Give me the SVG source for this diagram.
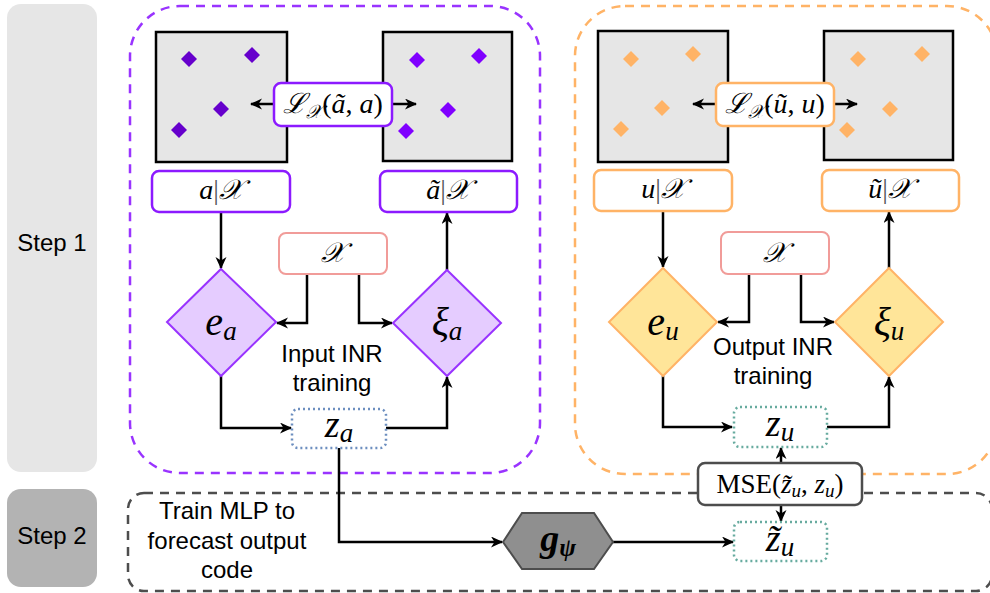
<svg xmlns="http://www.w3.org/2000/svg" width="990" height="593" viewBox="0 0 990 593">
<defs>
<marker id="arr" markerWidth="14" markerHeight="12" refX="11" refY="5.5" orient="auto" markerUnits="userSpaceOnUse">
<path d="M0,0 L12,5.5 L0,11 L3.5,5.5 z" fill="#000"/>
</marker>
<style>
.sans{font-family:"Liberation Sans",Arial,Helvetica,sans-serif;font-size:24px;fill:#000;text-anchor:middle}
.m{font-family:"Liberation Serif","DejaVu Serif","Times New Roman",serif;font-style:italic;fill:#000;text-anchor:middle}
.up{font-style:normal}
.conn{fill:none;stroke:#000;stroke-width:2.5}
.sq{fill:#e6e6e6;stroke:#000;stroke-width:2.5}
.lblP{fill:#fff;stroke:#8c1aff;stroke-width:2.5}
.lblO{fill:#fff;stroke:#ffb366;stroke-width:2.5}
.lblX{fill:#fff;stroke:#f19c99;stroke-width:2}
.dP{fill:#e5ccff;stroke:#9933ff;stroke-width:2}
.dO{fill:#ffe599;stroke:#ffb366;stroke-width:2}
.pa{fill:#6600cc}
.pb{fill:#8000ff}
.po{fill:#ffb366}
</style>
</defs>

<g id="step1">
<rect x="7" y="4" width="90" height="468" rx="14" fill="#e6e6e6"/>
<text class="sans" x="52" y="251">Step 1</text>
</g>
<g id="step2">
<rect x="7" y="489" width="90" height="98" rx="14" fill="#b3b3b3"/>
<text class="sans" x="52" y="544">Step 2</text>
</g>

<g id="input-panel">
<rect x="130" y="6" width="410" height="467" rx="50" fill="none" stroke="#9933ff" stroke-width="2.5" stroke-dasharray="9 7"/>
</g>
<g id="output-panel">
<rect x="575" y="6" width="422" height="468" rx="50" fill="none" stroke="#ffb366" stroke-width="2.5" stroke-dasharray="9 7"/>
</g>
<g id="step2-panel">
<rect x="128" y="493" width="864" height="98" rx="16" fill="none" stroke="#4d4d4d" stroke-width="2.5" stroke-dasharray="9 7"/>
<text class="sans" x="227" y="519">Train MLP to</text>
<text class="sans" x="227" y="549">forecast output</text>
<text class="sans" x="227" y="578">code</text>
</g>

<g id="grid-a">
<rect class="sq" x="156" y="32" width="131" height="130"/>
<path class="pa" d="M189,51 l8,8 l-8,8 l-8,-8z M252,47 l8,8 l-8,8 l-8,-8z M221,101 l8,8 l-8,8 l-8,-8z M179,122 l8,8 l-8,8 l-8,-8z"/>
</g>
<g id="grid-a-tilde">
<rect class="sq" x="383" y="32" width="129" height="129"/>
<path class="pb" d="M417,52 l8,8 l-8,8 l-8,-8z M479,48 l8,8 l-8,8 l-8,-8z M448,102 l8,8 l-8,8 l-8,-8z M406,123 l8,8 l-8,8 l-8,-8z"/>
</g>
<g id="grid-u">
<rect class="sq" x="598" y="31" width="130" height="131"/>
<path class="po" d="M631,51 l8,8 l-8,8 l-8,-8z M693,46 l8,8 l-8,8 l-8,-8z M662,100 l8,8 l-8,8 l-8,-8z M621,121 l8,8 l-8,8 l-8,-8z"/>
</g>
<g id="grid-u-tilde">
<rect class="sq" x="824" y="31" width="129" height="129"/>
<path class="po" d="M858,51 l8,8 l-8,8 l-8,-8z M922,46 l8,8 l-8,8 l-8,-8z M890,101 l8,8 l-8,8 l-8,-8z M847,122 l8,8 l-8,8 l-8,-8z"/>
</g>

<g id="connectors">
<path class="conn" marker-end="url(#arr)" d="M274,104 H251"/>
<path class="conn" marker-end="url(#arr)" d="M392,104 H416"/>
<path class="conn" marker-end="url(#arr)" d="M716,104 H693"/>
<path class="conn" marker-end="url(#arr)" d="M834,104 H857"/>
<path class="conn" marker-end="url(#arr)" d="M221,212 V268"/>
<path class="conn" marker-end="url(#arr)" d="M307,274 V323 H277"/>
<path class="conn" marker-end="url(#arr)" d="M359,274 V323 H392"/>
<path class="conn" marker-end="url(#arr)" d="M221,376 V428 H291"/>
<path class="conn" marker-end="url(#arr)" d="M386,428 H447 V377"/>
<path class="conn" marker-end="url(#arr)" d="M447,270 V213"/>
<path class="conn" marker-end="url(#arr)" d="M339,448 V542 H502"/>
<path class="conn" marker-end="url(#arr)" d="M613,542 H733"/>
<path class="conn" marker-end="url(#arr)" d="M781,463 V448"/>
<path class="conn" marker-end="url(#arr)" d="M781,505 V521"/>
<path class="conn" marker-end="url(#arr)" d="M663,211 V267"/>
<path class="conn" marker-end="url(#arr)" d="M749,274 V322 H718"/>
<path class="conn" marker-end="url(#arr)" d="M801,274 V322 H834"/>
<path class="conn" marker-end="url(#arr)" d="M663,376 V427 H732"/>
<path class="conn" marker-end="url(#arr)" d="M827,427 H889 V377"/>
<path class="conn" marker-end="url(#arr)" d="M889,268 V212"/>
</g>

<g id="loss-a">
<rect class="lblP" x="274" y="83" width="118" height="43" rx="7"/>
<text class="m" x="333" y="113" font-size="28">ℒ<tspan font-size="19" dy="5">𝒳</tspan><tspan class="up" dy="-5">(</tspan>ã<tspan class="up">, </tspan>a<tspan class="up">)</tspan></text>
</g>
<g id="loss-u">
<rect class="lblO" x="716" y="83" width="118" height="43" rx="7"/>
<text class="m" x="775" y="113" font-size="28">ℒ<tspan font-size="19" dy="5">𝒳</tspan><tspan class="up" dy="-5">(</tspan>ũ<tspan class="up">, </tspan>u<tspan class="up">)</tspan></text>
</g>
<g id="a-given-x">
<rect class="lblP" x="152" y="171" width="138" height="41" rx="7"/>
<text class="m" x="221" y="199" font-size="28">a<tspan class="up" fill="#555">|</tspan>𝒳</text>
</g>
<g id="atilde-given-x">
<rect class="lblP" x="380" y="171" width="137" height="41" rx="7"/>
<text class="m" x="448" y="199" font-size="28">ã<tspan class="up" fill="#555">|</tspan>𝒳</text>
</g>
<g id="u-given-x">
<rect class="lblO" x="594" y="170" width="138" height="41" rx="7"/>
<text class="m" x="663" y="198" font-size="28">u<tspan class="up" fill="#555">|</tspan>𝒳</text>
</g>
<g id="utilde-given-x">
<rect class="lblO" x="822" y="170" width="137" height="41" rx="7"/>
<text class="m" x="890" y="198" font-size="28">ũ<tspan class="up" fill="#555">|</tspan>𝒳</text>
</g>
<g id="x-a">
<rect class="lblX" x="279" y="233" width="108" height="41" rx="7"/>
<text class="m" x="333" y="262" font-size="28">𝒳</text>
</g>
<g id="x-u">
<rect class="lblX" x="721" y="232" width="108" height="42" rx="7"/>
<text class="m" x="775" y="262" font-size="28">𝒳</text>
</g>

<g id="e-a">
<path class="dP" d="M221,269 L276,322 L221,376 L167,322 Z"/>
<text class="m" x="221" y="335" font-size="40">e<tspan font-size="27" dy="5">a</tspan></text>
</g>
<g id="xi-a">
<path class="dP" d="M447,270 L501,323 L447,376 L393,323 Z"/>
<text class="m" x="447" y="335" font-size="40">ξ<tspan font-size="27" dy="5">a</tspan></text>
</g>
<g id="e-u">
<path class="dO" d="M663,268 L717,322 L663,376 L609,322 Z"/>
<text class="m" x="663" y="335" font-size="40">e<tspan font-size="27" dy="5">u</tspan></text>
</g>
<g id="xi-u">
<path class="dO" d="M889,268 L943,322 L889,376 L835,322 Z"/>
<text class="m" x="889" y="335" font-size="40">ξ<tspan font-size="27" dy="5">u</tspan></text>
</g>

<g id="input-label">
<text class="sans" x="332" y="362">Input INR</text>
<text class="sans" x="332" y="391">training</text>
</g>
<g id="output-label">
<text class="sans" x="773" y="355">Output INR</text>
<text class="sans" x="773" y="384">training</text>
</g>

<g id="z-a">
<rect x="292" y="409" width="94" height="39" rx="6" fill="#fff" stroke="#6c8ebf" stroke-width="2.5" stroke-dasharray="2 3"/>
<text class="m" x="339" y="437" font-size="38">z<tspan font-size="27" dy="5">a</tspan></text>
</g>
<g id="z-u">
<rect x="734" y="407" width="93" height="40" rx="6" fill="#fff" stroke="#67ab9f" stroke-width="2.5" stroke-dasharray="2 3"/>
<text class="m" x="780" y="436" font-size="38">z<tspan font-size="27" dy="5">u</tspan></text>
</g>
<g id="mse">
<rect x="698" y="463" width="164" height="42" rx="7" fill="#fff" stroke="#4d4d4d" stroke-width="2.5"/>
<text class="m" x="780" y="493" font-size="27"><tspan class="up">MSE(</tspan>z̃<tspan font-size="19" dy="4">u</tspan><tspan class="up" dy="-4">, </tspan>z<tspan font-size="19" dy="4">u</tspan><tspan class="up" dy="-4">)</tspan></text>
</g>
<g id="g-psi">
<path d="M503,542 L522,513 L594,513 L613,542 L594,569 L522,569 Z" fill="#8f8f8f" stroke="#4d4d4d" stroke-width="2"/>
<text class="m" x="558" y="551" font-size="38" font-weight="bold">g<tspan font-size="25" dy="5">ψ</tspan></text>
</g>
<g id="z-tilde-u">
<rect x="734" y="522" width="93" height="39" rx="6" fill="#fff" stroke="#67ab9f" stroke-width="2.5" stroke-dasharray="2 3"/>
<text class="m" x="780" y="551" font-size="38">z̃<tspan font-size="27" dy="5">u</tspan></text>
</g>
</svg>
